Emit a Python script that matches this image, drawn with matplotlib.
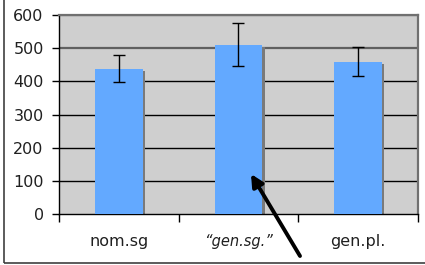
import matplotlib.pyplot as plt
from matplotlib.patches import Rectangle

plt.rcParams['font.family'] = ['DejaVu Sans']

categories = ["nom.sg", "\u201cgen.sg.\u201d", "gen.pl."]
means = [437, 510, 458]
err_low = [397, 447, 416]
err_high = [478, 576, 502]
yticks = [0, 100, 200, 300, 400, 500, 600]

fig = plt.figure(figsize=(4.25, 2.65), dpi=100)
ax = fig.add_axes([0.1388, 0.1913, 0.8447, 0.7532])
ax.set_facecolor('#cfcfcf')

# gridlines: the upper ones look grey, lower ones black
for v in yticks[1:]:
    c = '#606060' if v >= 500 else 'black'
    lw = 1.6 if v >= 500 else 1.0
    ax.axhline(v, color=c, lw=lw, zorder=1)

x = list(range(len(categories)))
# drop shadow on bars
ax.bar([i + 0.018 for i in x], [m - 6 for m in means], width=0.4,
       bottom=0, color='#7a7a7a', zorder=2)
ax.bar(x, means, width=0.4, color='#63a9ff', zorder=3)

yerr = [[m - lo for m, lo in zip(means, err_low)],
        [hi - m for m, hi in zip(means, err_high)]]
ax.errorbar(x, means, yerr=yerr, fmt='none', ecolor='black',
            elinewidth=1, capsize=4, capthick=1, zorder=4)

ax.set_xlim(-0.5, 2.5)
ax.set_ylim(0, 600)
ax.set_yticks(yticks)
ax.tick_params(axis='y', direction='out', length=5, width=1, labelsize=11.5,
               pad=6, labelcolor='#202020')

ax.set_xticks(x)
ax.set_xticklabels(categories, fontsize=11.5, color='#202020')
ax.get_xticklabels()[1].set_style('italic')
ax.get_xticklabels()[1].set_fontsize(10.5)
ax.set_xticks([-0.5, 0.5, 1.5, 2.5], minor=True)
ax.tick_params(axis='x', which='major', length=0, pad=14)
ax.tick_params(axis='x', which='minor', direction='out', length=6, width=1)

for side in ['top', 'right']:
    ax.spines[side].set_color('#707070')
    ax.spines[side].set_linewidth(1.6)
for side in ['left', 'bottom']:
    ax.spines[side].set_color('black')
    ax.spines[side].set_linewidth(1.0)

# frame of the outer chart box (left and bottom edges visible)
fig.patches.append(Rectangle((4 / 425, 2.5 / 265), 1.2, 1.2, transform=fig.transFigure,
                             fill=False, edgecolor='#404040', lw=1.2))

ax.annotate('', xy=(251 / 425, 1 - 174 / 265), xytext=(300 / 425, 1 - 256 / 265),
            xycoords='figure fraction', textcoords='figure fraction',
            arrowprops=dict(arrowstyle='-|>', color='black', lw=2.8,
                            mutation_scale=18, shrinkA=0, shrinkB=0))

fig.savefig('out.png', dpi=100)
